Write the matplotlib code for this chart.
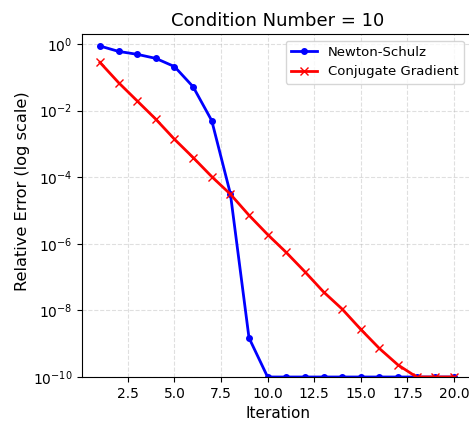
import numpy as np
import matplotlib
matplotlib.use("Agg")
import matplotlib.pyplot as plt

# data
iterations = np.arange(1, 21)
newton_schulz = [0.87, 0.6, 0.49, 0.37, 0.21, 0.052, 5.0e-3, 3.2e-5, 1.5e-9,
                 1e-10, 1e-10, 1e-10, 1e-10, 1e-10, 1e-10, 1e-10, 1e-10, 1e-10,
                 1e-10, 1e-10]
conjugate_gradient = [0.28, 0.069, 0.0195, 5.5e-3, 1.38e-3, 3.9e-4, 1.04e-4,
                      3.1e-5, 7.2e-6, 1.9e-6, 5.5e-7, 1.45e-7, 3.6e-8, 1.1e-8,
                      2.7e-9, 7.2e-10, 2.3e-10, 1e-10, 1e-10, 1e-10]

fig = plt.figure(figsize=(4.69, 4.21), dpi=100)
W, H = 469, 421
# axes (right edge runs past the figure, as in the reference crop)
left, right, top, bottom = 82, 474, 34, 377
ax = fig.add_axes([left / W, 1 - bottom / H, (right - left) / W, (bottom - top) / H])

ax.semilogy(iterations, newton_schulz, "b-o", lw=2, ms=4, label="Newton-Schulz")
ax.semilogy(iterations, conjugate_gradient, "r-x", lw=2, ms=6, label="Conjugate Gradient")

ax.set_ylim(1e-10, 2)
ax.set_xlim(0.034, 21.08)
ax.set_xticks([2.5, 5.0, 7.5, 10.0, 12.5, 15.0, 17.5, 20.0])
ax.spines["right"].set_visible(False)
ax.set_xlabel("Iteration", fontsize=11)
ax.set_ylabel("Relative Error (log scale)", fontsize=11.7)
ax.yaxis.set_label_coords(-0.133, 0.542)
ax.set_title("Condition Number = 10", fontsize=13)
ax.grid(True, which="major", ls="--", alpha=0.4)
ax.legend(loc="upper right", fontsize=9.5, bbox_to_anchor=(0.991, 1.0))

fig.savefig("out.png", dpi=100)
